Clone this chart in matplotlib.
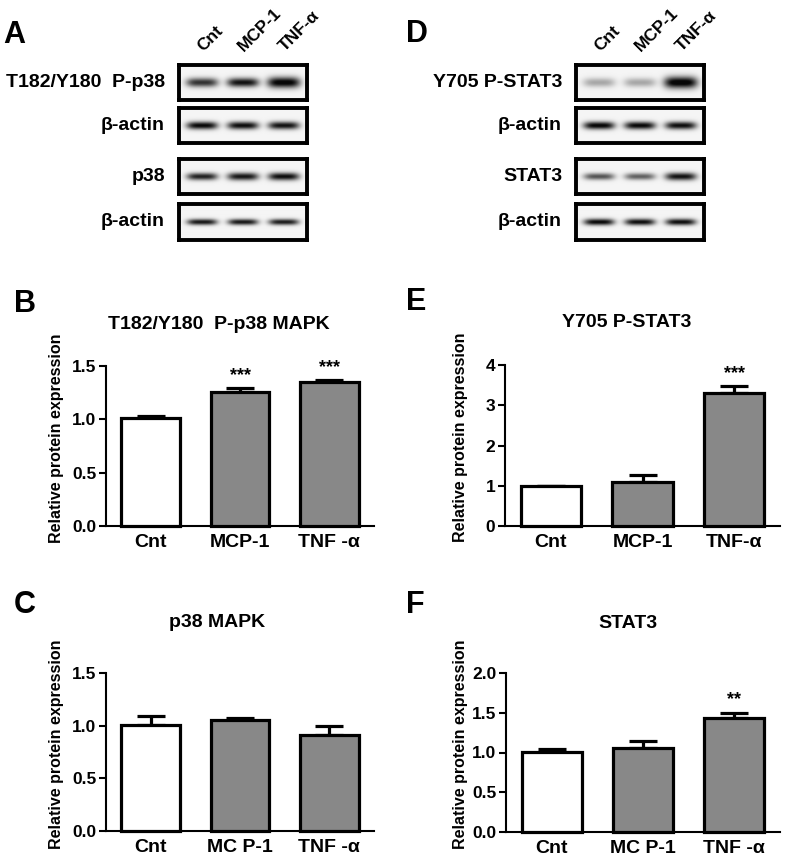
import numpy as np
import matplotlib
matplotlib.use('Agg')
import matplotlib.pyplot as plt

plt.rcParams['font.family'] = ['Liberation Sans', 'DejaVu Sans']
plt.rcParams['font.weight'] = 'bold'

W, H = 785, 860

# groups
groups = ["Cnt", "MCP-1", "TNF-α"]

# bar chart data (mean, SEM)
b_vals = [1.01, 1.26, 1.35]
b_errs = [0.02, 0.03, 0.02]
b_stars = ["", "***", "***"]
b_ticks = ["Cnt", "MCP-1", "TNF -α"]

c_vals = [1.01, 1.05, 0.91]
c_errs = [0.08, 0.02, 0.09]
c_stars = ["", "", ""]
c_ticks = ["Cnt", "MC P-1", "TNF -α"]

e_vals = [1.0, 1.1, 3.3]
e_errs = [0.0, 0.17, 0.17]
e_stars = ["", "", "***"]
e_ticks = ["Cnt", "MCP-1", "TNF-α"]

f_vals = [1.01, 1.06, 1.43]
f_errs = [0.03, 0.08, 0.07]
f_stars = ["", "", "**"]
f_ticks = ["Cnt", "MC P-1", "TNF -α"]

bar_colors = ["white", "#888888", "#888888"]

# western blot band intensities (0..1) and thickness per lane
blot_a_names = ["T182/Y180  P-p38", "β-actin", "p38", "β-actin"]
blot_a_amp = [[0.75, 0.88, 0.97], [0.92, 0.9, 0.88], [0.82, 0.86, 0.9], [0.86, 0.86, 0.84]]
blot_a_thick = [[1.0, 1.0, 1.2], [0.85, 0.85, 0.85], [0.8, 0.85, 0.85], [0.65, 0.65, 0.65]]

blot_d_names = ["Y705 P-STAT3", "β-actin", "STAT3", "β-actin"]
blot_d_amp = [[0.3, 0.3, 1.0], [0.94, 0.92, 0.9], [0.62, 0.57, 0.88], [0.92, 0.9, 0.9]]
blot_d_thick = [[1.0, 1.0, 1.3], [0.85, 0.85, 0.85], [0.75, 0.75, 0.85], [0.7, 0.7, 0.7]]

lane_pos = [0.18, 0.5, 0.82]


def px(l, t, r, b):
    return [l / W, 1 - b / H, (r - l) / W, (b - t) / H]


fig = plt.figure(figsize=(W / 100, H / 100), dpi=100)


def blot(box, amps, thick):
    ax = fig.add_axes(px(*box))
    xx = np.linspace(0, 1, 256)
    yy = np.linspace(0, 1, 70)
    X, Y = np.meshgrid(xx, yy)
    img = np.zeros_like(X)
    for cx, a, t in zip(lane_pos, amps, thick):
        hw = 0.125 * (0.85 + 0.15 * t)
        sy = 0.13 * t
        img += a * np.exp(-((X - cx) / hw) ** 4) * np.exp(-((Y - 0.5) / sy) ** 2)
    img = np.clip(img * 1.1, 0, 1)
    gray = 0.96 - 0.93 * img
    ax.imshow(gray, cmap='gray', vmin=0, vmax=1, extent=[0, 1, 0, 1],
              aspect='auto', interpolation='bilinear')
    ax.set_xticks([])
    ax.set_yticks([])
    for s in ax.spines.values():
        s.set_linewidth(2.8)
    return ax


rows_y = [(65, 100), (108, 143), (159, 194), (204, 240)]

for (t, b), name, amp, th in zip(rows_y, blot_a_names, blot_a_amp, blot_a_thick):
    blot((179, t, 307, b), amp, th)
    fig.text(165 / W, 1 - (t + b) / 2 / H, name, ha='right', va='center', fontsize=14)

for (t, b), name, amp, th in zip(rows_y, blot_d_names, blot_d_amp, blot_d_thick):
    blot((576, t, 704, b), amp, th)
    fig.text(562 / W, 1 - (t + b) / 2 / H, name, ha='right', va='center', fontsize=14)

# rotated lane labels above blots
for left in (179, 576):
    for lp, g in zip(lane_pos, groups):
        xpix = left + lp * 128 + 3
        fig.text(xpix / W, 1 - 54 / H, g, rotation=45, rotation_mode='anchor',
                 ha='left', va='bottom', fontsize=12.5)


def barpanel(box, vals, errs, stars, ticks, ymax, yticks, yfmt, title, title_xy, ylab_x):
    ax = fig.add_axes(px(*box))
    x = np.arange(len(vals))
    ax.bar(x, vals, width=0.66, color=bar_colors, edgecolor='black',
           linewidth=2.3, zorder=3, clip_on=False)
    ax.errorbar(x, vals, yerr=[np.zeros(len(errs)), errs], fmt='none', ecolor='black',
                elinewidth=2.3, capsize=10, capthick=2.3, zorder=2, clip_on=False)
    for xi, v, e, s in zip(x, vals, errs, stars):
        if s:
            ax.annotate(s, (xi, v + e), xytext=(0, 3), textcoords='offset points',
                        ha='center', va='bottom', fontsize=13)
    ax.set_xlim(-0.5, 2.5)
    ax.set_ylim(0, ymax)
    ax.set_yticks(yticks)
    ax.set_yticklabels([yfmt.format(v) for v in yticks], fontsize=12.5)
    ax.set_xticks(x)
    ax.set_xticklabels(ticks, fontsize=14)
    ax.tick_params(axis='x', length=0, pad=6)
    ax.tick_params(axis='y', length=5, width=1.5, pad=2)
    for s in ['top', 'right']:
        ax.spines[s].set_visible(False)
    for s in ['left', 'bottom']:
        ax.spines[s].set_linewidth(1.5)
    fig.text(title_xy[0] / W, 1 - title_xy[1] / H, title, ha='center', va='baseline',
             fontsize=14)
    fig.text(ylab_x / W, 1 - ((box[1] + box[3]) / 2 - 8) / H, "Relative protein expression",
             rotation=90, ha='center', va='center', fontsize=11.5)
    return ax


barpanel((106, 366, 374, 526), b_vals, b_errs, b_stars, b_ticks, 1.5,
         [0.0, 0.5, 1.0, 1.5], "{:.1f}", "T182/Y180  P-p38 MAPK", (219, 329), 57)
barpanel((106, 673, 374, 831), c_vals, c_errs, c_stars, c_ticks, 1.5,
         [0.0, 0.5, 1.0, 1.5], "{:.1f}", "p38 MAPK", (217, 627), 57)
barpanel((505, 365, 780, 526), e_vals, e_errs, e_stars, e_ticks, 4,
         [0, 1, 2, 3, 4], "{:d}", "Y705 P-STAT3", (627, 327), 460)
barpanel((506, 673, 780, 832), f_vals, f_errs, f_stars, f_ticks, 2.0,
         [0.0, 0.5, 1.0, 1.5, 2.0], "{:.1f}", "STAT3", (628, 628), 460)

# panel letters
for letter, lx, ly in [("A", 3, 43), ("D", 406, 42), ("B", 14, 312),
                       ("E", 406, 310), ("C", 14, 613), ("F", 406, 613)]:
    fig.text(lx / W, 1 - ly / H, letter, ha='left', va='baseline', fontsize=22)

fig.savefig("out.png", dpi=100)
